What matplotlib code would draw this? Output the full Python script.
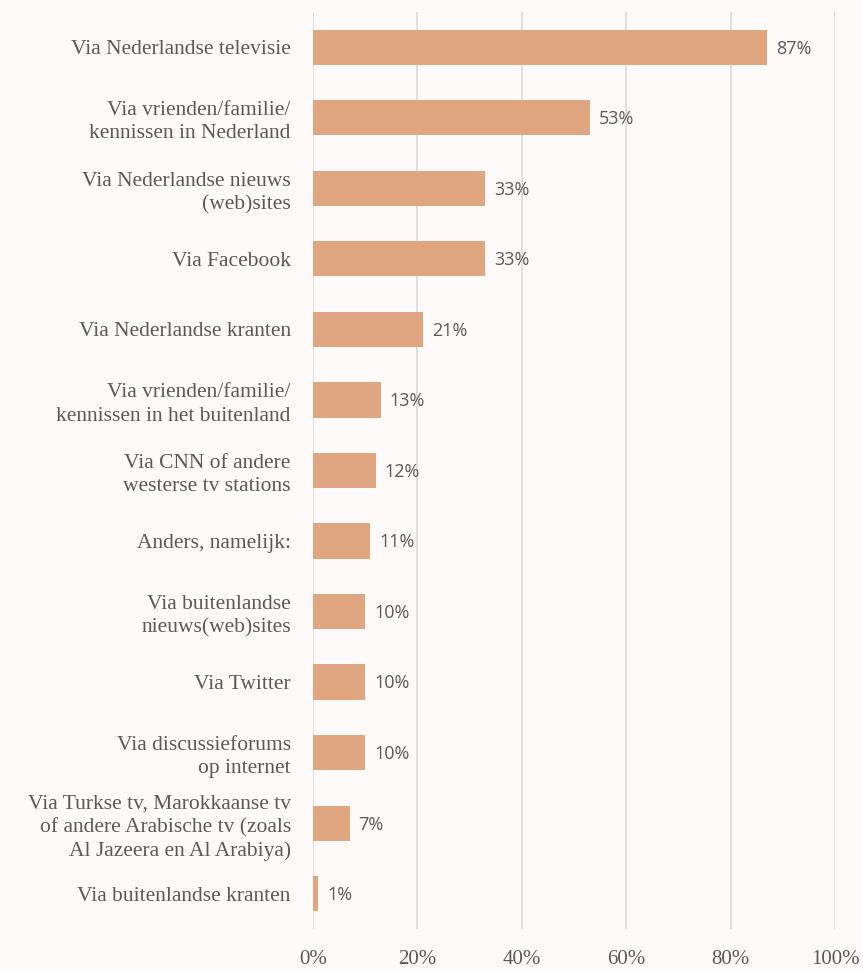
import matplotlib
matplotlib.use("Agg")
import matplotlib.pyplot as plt
import numpy as np

BG = "#FEFAF9"
BAR_C = "#E0A680"
GRID_C = "#D9D9D9"
TXT_C = "#595959"

categories = [
    "Via Nederlandse televisie",
    "Via vrienden/familie/\nkennissen in Nederland",
    "Via Nederlandse nieuws\n(web)sites",
    "Via Facebook",
    "Via Nederlandse kranten",
    "Via vrienden/familie/\nkennissen in het buitenland",
    "Via CNN of andere\nwesterse tv stations",
    "Anders, namelijk:",
    "Via buitenlandse\nnieuws(web)sites",
    "Via Twitter",
    "Via discussieforums\nop internet",
    "Via Turkse tv, Marokkaanse tv\nof andere Arabische tv (zoals\nAl Jazeera en Al Arabiya)",
    "Via buitenlandse kranten",
]
values = [87, 53, 33, 33, 21, 13, 12, 11, 10, 10, 10, 7, 1]
xticks = [0, 20, 40, 60, 80, 100]

fig = plt.figure(figsize=(8.63, 9.71), dpi=100, facecolor=BG)
ax = fig.add_axes([0.3627, 0.0433, 0.6049, 0.9444], facecolor=BG)

y = np.arange(len(categories))
ax.barh(y, values, height=0.5, color=BAR_C, zorder=2)
for yi, v in zip(y, values):
    ax.annotate(f"{v}%", (v, yi), xytext=(6.5, -1), textcoords="offset points",
                ha="left", va="center", fontsize=13, color=TXT_C,
                family=["Open Sans", "DejaVu Sans"])

ax.set_ylim(len(categories) - 0.5, -0.5)
ax.set_xlim(0, 100)
ax.set_xticks(xticks)
ax.set_xticklabels([f"{t}%" for t in xticks], fontsize=15, color=TXT_C,
                   family="Liberation Serif")
ax.set_yticks(y)
ax.set_yticklabels(categories, fontsize=15.5, color=TXT_C, family="Liberation Serif",
                   linespacing=1.3)
ax.tick_params(axis="both", length=0)
ax.tick_params(axis="y", pad=16)
ax.tick_params(axis="x", pad=15)
ax.grid(axis="x", color=GRID_C, linewidth=1.2, zorder=0)
for s in ax.spines.values():
    s.set_visible(False)

fig.savefig("out.png", dpi=100, facecolor=BG)
